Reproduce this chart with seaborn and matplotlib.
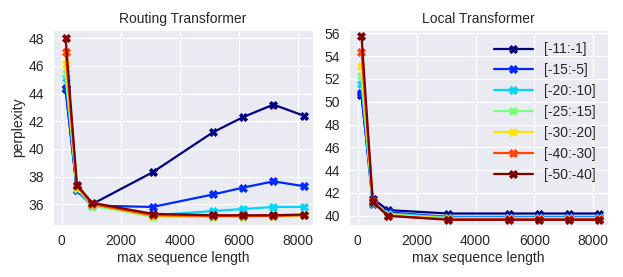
import numpy as np
import pandas as pd
import seaborn as sns
import matplotlib.pyplot as plt

sns.set_style('darkgrid')
plt.rcParams['font.family'] = ['Liberation Sans', 'DejaVu Sans']

seq_len = [128, 512, 1024, 3072, 5120, 6144, 7168, 8192]
ranges = ['[-11:-1]', '[-15:-5]', '[-20:-10]', '[-25:-15]', '[-30:-20]', '[-40:-30]', '[-50:-40]']

routing = [
    [44.3, 37.0, 36.0, 38.3, 41.2, 42.3, 43.2, 42.4],
    [44.4, 37.0, 35.9, 35.8, 36.7, 37.2, 37.65, 37.3],
    [45.1, 37.1, 35.9, 35.2, 35.5, 35.65, 35.8, 35.8],
    [45.5, 37.2, 35.9, 35.1, 35.1, 35.1, 35.15, 35.2],
    [46.1, 37.2, 36.0, 35.15, 35.15, 35.15, 35.15, 35.2],
    [47.0, 37.3, 36.0, 35.2, 35.15, 35.15, 35.15, 35.2],
    [48.0, 37.4, 36.1, 35.3, 35.2, 35.2, 35.2, 35.25],
]
local = [
    [50.6, 41.5, 40.5, 40.2, 40.2, 40.2, 40.2, 40.2],
    [50.8, 41.0, 40.3, 39.9, 39.9, 39.9, 39.9, 39.9],
    [51.6, 41.1, 40.2, 39.85, 39.85, 39.85, 39.85, 39.85],
    [52.3, 41.2, 40.1, 39.8, 39.8, 39.8, 39.8, 39.8],
    [53.1, 41.2, 40.1, 39.75, 39.75, 39.75, 39.75, 39.75],
    [54.4, 41.3, 40.0, 39.7, 39.7, 39.7, 39.7, 39.7],
    [55.8, 41.2, 40.0, 39.65, 39.65, 39.65, 39.65, 39.65],
]

colors = [plt.cm.jet(v) for v in np.linspace(0, 1, len(ranges))]


def to_long(vals):
    rows = []
    for name, ys in zip(ranges, vals):
        for x, y in zip(seq_len, ys):
            rows.append({'len': x, 'ppl': y, 'range': name})
    return pd.DataFrame(rows)


fig = plt.figure(figsize=(6.23, 2.77), dpi=100)
ax1 = fig.add_axes([0.085, 0.188, 0.417, 0.704])
ax2 = fig.add_axes([0.560, 0.188, 0.416, 0.704])

fs = 10
for ax, vals, title in [(ax1, routing, 'Routing Transformer'), (ax2, local, 'Local Transformer')]:
    sns.lineplot(data=to_long(vals), x='len', y='ppl', hue='range', palette=colors,
                 marker='X', markersize=5.5, linewidth=1.6, ax=ax)
    for ln in ax.get_lines():
        ln.set_markeredgecolor(ln.get_color())
        ln.set_markeredgewidth(0.6)
    ax.set_title(title, fontsize=fs, pad=5)
    ax.set_xlabel('max sequence length', fontsize=fs, labelpad=2)
    ax.set_xticks([0, 2000, 4000, 6000, 8000])
    ax.tick_params(labelsize=fs, pad=3)
    ax.set_xlim(-300, 8500)

ax1.set_ylabel('perplexity', fontsize=fs, labelpad=2)
ax2.set_ylabel('')
ax1.set_ylim(34.5, 48.6)
ax1.set_yticks([36, 38, 40, 42, 44, 46, 48])
ax2.set_ylim(39.2, 56.3)
ax2.set_yticks([40, 42, 44, 46, 48, 50, 52, 54, 56])
ax1.get_legend().remove()
leg = ax2.legend(title=None, frameon=False, fontsize=fs, loc='upper right', handlelength=2.8,
                 labelspacing=0.5)
for h in leg.legend_handles:
    h.set_markeredgecolor(h.get_color())

fig.savefig('out.png', dpi=100)
